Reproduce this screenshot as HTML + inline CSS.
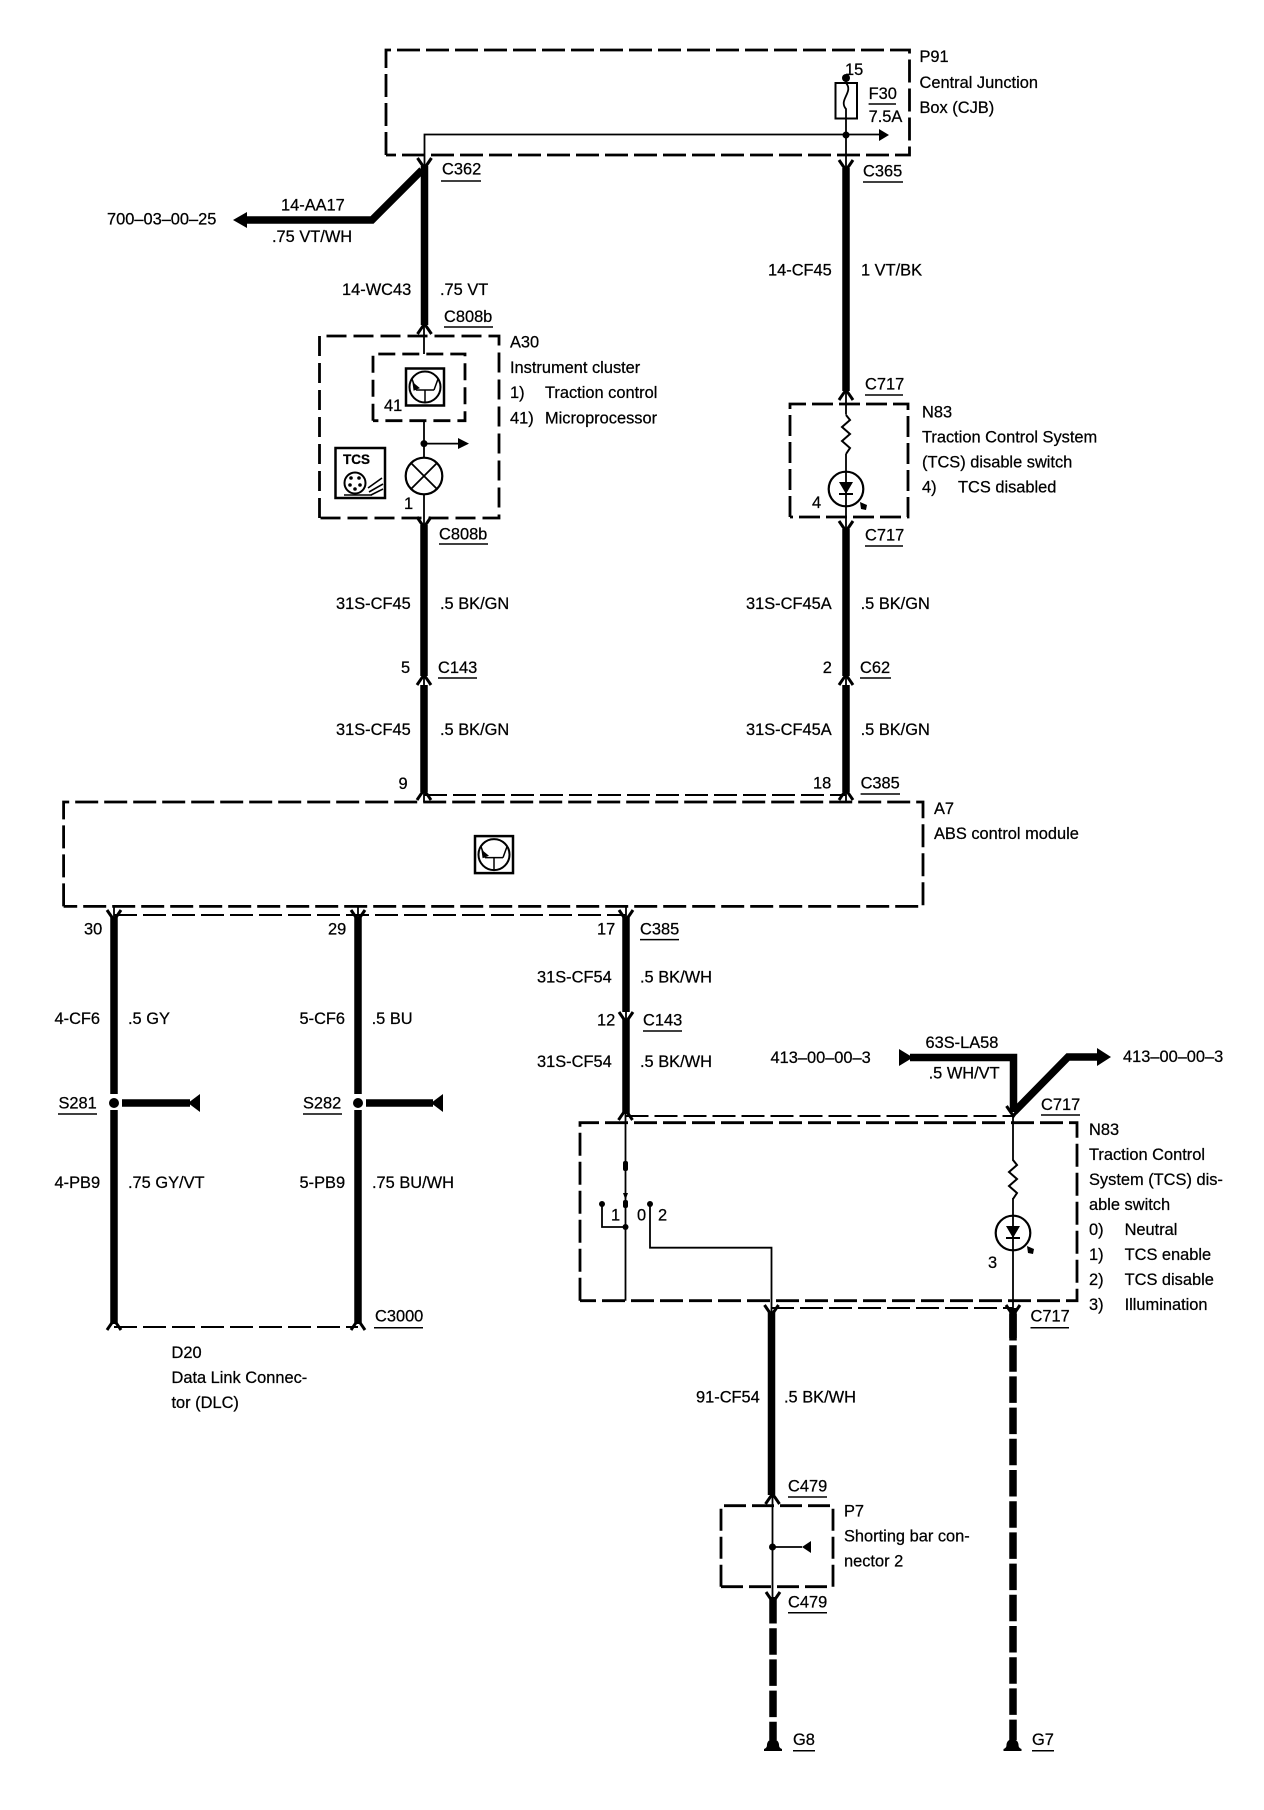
<!DOCTYPE html>
<html><head><meta charset="utf-8"><style>
html,body{margin:0;padding:0;background:#fff}
svg{display:block}
text{font-family:"Liberation Sans",sans-serif;font-size:16.4px;fill:#000;stroke:#000;stroke-width:.25px}
</style></head><body>
<svg width="1264" height="1810" viewBox="0 0 1264 1810" xmlns="http://www.w3.org/2000/svg">
<defs>
<path id="fu" d="M-7,-7 Q-3,-1 0,3 Q3,-1 7,-7" fill="none" stroke="#000" stroke-width="3"/>
<path id="fd" d="M-7,7 Q-3,1 0,-3 Q3,1 7,7" fill="none" stroke="#000" stroke-width="3"/>
<g id="ecu" fill="none" stroke="#000">
<rect x="-19" y="-18.5" width="38" height="37" stroke-width="2.5" fill="#fff"/>
<circle r="15.5" stroke-width="2"/>
<path d="M-9,3H9M0,3V15M-9,3L-13,-8M9,3L13,-8" stroke-width="1.5"/>
<path d="M-12,-4L-6,1L-11,3Z" fill="#000" stroke="#000" stroke-width="1"/>
</g>
<g id="led" fill="none" stroke="#000">
<circle r="17.3" stroke-width="2.2"/>
<path d="M-7,-7H7L0,5Z" fill="#000" stroke="none"/>
<path d="M-7,5H7" stroke-width="2"/>
<path d="M14,13L21,16L20,21L15,20Z" fill="#000" stroke="none"/>
</g>
<g id="gnd"><path d="M-9,10H9V8Q6,7 6,4A6,6 0 0 0 -6,4Q-6,7 -9,8Z" fill="#000"/></g>
<path id="res" d="M0,0L4,5L-4,12L4,19L-4,26L4,33L0,39" fill="none" stroke="#000" stroke-width="2"/>
</defs>

<!-- dashed boxes -->
<g fill="none" stroke="#000" stroke-width="2.8" stroke-dasharray="23 6">
<path d="M386,155V50H909.5V155H386"/>
<path d="M319.5,518V336H499V518H319.5" stroke-dasharray="20 7"/>
<path d="M373,420.7V354H465V420.7H373" stroke-dasharray="17 7"/>
<path d="M790,517V404H908V517H790" stroke-dasharray="21 6"/>
<path d="M63.6,906.4V802H923V906.4H63.6"/>
<path d="M580,1300.7V1122.7H1077V1300.7H580"/>
<path d="M721,1586.7V1505.7H833V1586.7H721" stroke-dasharray="22 6"/>
</g>
<!-- thin dashed links -->
<g fill="none" stroke="#000" stroke-width="2" stroke-dasharray="23 6">
<path d="M424,795H846"/>
<path d="M114,915H626"/>
<path d="M625.5,1116H1013"/>
<path d="M771,1308H1013"/>
<path d="M114,1327H358"/>
</g>

<!-- thick wires -->
<g fill="none" stroke="#000" stroke-width="7.5">
<path d="M424.5,166V325"/>
<path d="M424,525V676"/>
<path d="M424,685V792"/>
<path d="M846,168V391"/>
<path d="M846,529V676"/>
<path d="M846,685V792"/>
<path d="M114,917V1094M114,1110V1324"/>
<path d="M358,917V1094M358,1110V1324"/>
<path d="M626,917V1012M626,1019V1114"/>
<path d="M771.5,1312V1495"/>
<path d="M422,170L372,220H245"/>
<path d="M122,1103H190M366,1103H433"/>
<path d="M910,1057.5H1013.5V1112"/>
<path d="M1014,1112L1068,1057H1098"/>
<path d="M1013,1314V1740" stroke-dasharray="26.5 4.7"/>
<path d="M773,1597V1740" stroke-dasharray="26.5 4.7"/>
</g>
<path d="M1013,1308V1338" stroke="#000" stroke-width="7.5"/>

<!-- arrow heads -->
<g fill="#000">
<path d="M233,220L247,212V228Z"/>
<path d="M188,1103L200,1094V1112Z"/>
<path d="M431,1103L443,1094V1112Z"/>
<path d="M899,1049V1066L913,1057.5Z"/>
<path d="M1097,1048V1066L1111,1057Z"/>
<path d="M889,135L879,129V141Z"/>
<path d="M469,443.6L458,438V449Z"/>
<path d="M802,1547L811,1541V1553Z"/>
<circle cx="114" cy="1103" r="5"/>
<circle cx="358" cy="1103" r="5"/>
<circle cx="424" cy="443.6" r="3.5"/>
<circle cx="846" cy="135" r="3.5"/>
<circle cx="846" cy="78" r="4"/>
<circle cx="772.5" cy="1547" r="3.5"/>
<circle cx="625.5" cy="1227" r="3"/>
<circle cx="602" cy="1204" r="3"/>
<circle cx="650" cy="1204" r="3"/>
<rect x="623" y="1161" width="5" height="10" rx="2"/>
<path d="M623,1193H628L625.5,1200Z"/>
<rect x="623" y="1200" width="5" height="8" rx="2"/>
</g>

<!-- thin wires -->
<g fill="none" stroke="#000" stroke-width="1.8">
<path d="M424.5,166V134.5H879"/>
<path d="M424,325V354M424,420.7V458M424,494V525M424,676V685M424,792V802"/>
<path d="M424,443.6H458"/>
<path d="M846,78V168M846,391V414.6M846,454V529M846,676V685M846,792V802"/>
<path d="M114,906V917M358,906V917M626,906V917M626,1012V1019"/>
<path d="M625.5,1114V1300.7"/>
<path d="M602,1204V1227H625.5"/>
<path d="M650,1204V1247.7H771.5V1312"/>
<path d="M1013,1114V1160.7M1013,1198V1312"/>
<path d="M772.5,1495V1600"/>
<path d="M772.5,1547H802"/>
<path d="M868.6,104H896" stroke-width="1.5"/>
</g>

<!-- fuse -->
<rect x="835.5" y="83" width="21.5" height="35.5" fill="#fff" stroke="#000" stroke-width="2"/>
<path d="M846,83C854,92 838,100 846,109V118.5" fill="none" stroke="#000" stroke-width="1.8"/>

<!-- components -->
<use href="#ecu" x="425" y="387"/>
<use href="#ecu" x="494" y="854.6"/>
<g fill="none" stroke="#000" stroke-width="2.2">
<circle cx="424" cy="476" r="18.3" fill="#fff"/>
<path d="M411,463L437,489M437,463L411,489" stroke-width="1.8"/>
</g>
<use href="#res" x="846" y="415"/>
<use href="#res" x="1013" y="1160"/>
<use href="#led" x="846" y="489"/>
<use href="#led" x="1013" y="1233"/>

<!-- TCS icon -->
<rect x="335.5" y="448" width="49.5" height="50" fill="#fff" stroke="#000" stroke-width="2.5"/>
<text x="343" y="464" style="font-size:13.5px;font-weight:bold">TCS</text>
<circle cx="355" cy="483" r="10.5" fill="none" stroke="#000" stroke-width="2"/>
<g fill="#000"><circle cx="351" cy="478" r="1.8"/><circle cx="359" cy="478" r="1.8"/><circle cx="350" cy="485" r="1.8"/><circle cx="360" cy="485" r="1.8"/><circle cx="355" cy="489" r="1.8"/></g>
<path d="M344,495H372M368,488L382,478M369,492L383,484M371,495L383,489" fill="none" stroke="#000" stroke-width="1.6"/>

<!-- connector forks -->
<use href="#fu" x="424.5" y="165"/>
<use href="#fd" x="424.5" y="327"/>
<use href="#fu" x="424" y="524"/>
<use href="#fd" x="424" y="678"/>
<use href="#fd" x="424" y="793"/>
<use href="#fu" x="846" y="167"/>
<use href="#fd" x="846" y="393"/>
<use href="#fu" x="846" y="528"/>
<use href="#fd" x="846" y="678"/>
<use href="#fd" x="846" y="793"/>
<use href="#fu" x="114" y="917"/>
<use href="#fu" x="358" y="917"/>
<use href="#fu" x="626" y="917"/>
<use href="#fu" x="626" y="1019"/>
<use href="#fd" x="114" y="1323"/>
<use href="#fd" x="358" y="1323"/>
<use href="#fd" x="625.5" y="1113"/>
<use href="#fu" x="1013.5" y="1113"/>
<use href="#fu" x="771.5" y="1312"/>
<use href="#fu" x="1013" y="1312"/>
<use href="#fd" x="772.5" y="1497"/>
<use href="#fu" x="773" y="1599"/>
<use href="#gnd" x="773" y="1741"/>
<use href="#gnd" x="1012.5" y="1741"/>

<!-- underlines -->
<g stroke="#000" stroke-width="1.5" fill="none">
<path d="M441,181H481M444,327H493M439,544H488M863,182H903M865,395H903M865,546H903"/>
<path d="M438,678H477M860,678H891M860.6,794H900M640,939.6H679M643,1031H682"/>
<path d="M58,1114H97M303,1114H342M374,1327.7H423M1041,1115H1080M1030.5,1327.7H1069"/>
<path d="M788,1497H827M788,1612.7H827M793,1750.7H815M1032,1750.7H1054"/>
</g>

<!-- labels -->
<text x="919.5" y="62">P91</text>
<text x="919.5" y="88">Central Junction</text>
<text x="919.5" y="113">Box (CJB)</text>
<text x="845" y="75">15</text>
<text x="868.6" y="99">F30</text>
<text x="868.6" y="122">7.5A</text>
<text x="442" y="174.6">C362</text>
<text x="863" y="176.4">C365</text>
<text x="281" y="210.4">14-AA17</text>
<text x="107" y="224.6">700–03–00–25</text>
<text x="272" y="242">.75 VT/WH</text>
<text x="342" y="295">14-WC43</text>
<text x="440" y="295">.75 VT</text>
<text x="768" y="275.7">14-CF45</text>
<text x="861" y="275.7">1 VT/BK</text>
<text x="444" y="322">C808b</text>
<text x="510" y="347.5">A30</text>
<text x="510" y="373">Instrument cluster</text>
<text x="510" y="398">1)</text><text x="545" y="398">Traction control</text>
<text x="510" y="423.6">41)</text><text x="545" y="423.6">Microprocessor</text>
<text x="384" y="411">41</text>
<text x="404" y="509">1</text>
<text x="439" y="539.6">C808b</text>
<text x="865" y="389.6">C717</text>
<text x="922" y="417.5">N83</text>
<text x="922" y="442.5">Traction Control System</text>
<text x="922" y="467.5">(TCS) disable switch</text>
<text x="922" y="492.5">4)</text><text x="958" y="492.5">TCS disabled</text>
<text x="812" y="508">4</text>
<text x="865" y="540.7">C717</text>
<text x="336" y="609">31S-CF45</text>
<text x="440" y="609">.5 BK/GN</text>
<text x="746" y="609">31S-CF45A</text>
<text x="860.6" y="609">.5 BK/GN</text>
<text x="401" y="673">5</text>
<text x="438" y="673">C143</text>
<text x="822.7" y="673">2</text>
<text x="860" y="673">C62</text>
<text x="336" y="735">31S-CF45</text>
<text x="440" y="735">.5 BK/GN</text>
<text x="746" y="735">31S-CF45A</text>
<text x="860.6" y="735">.5 BK/GN</text>
<text x="398.5" y="789">9</text>
<text x="813" y="788.6">18</text>
<text x="860.6" y="788.6">C385</text>
<text x="934" y="814">A7</text>
<text x="934" y="839">ABS control module</text>
<text x="84" y="934.3">30</text>
<text x="328" y="934.3">29</text>
<text x="597" y="934.3">17</text>
<text x="640" y="934.3">C385</text>
<text x="537" y="982.5">31S-CF54</text>
<text x="640" y="982.5">.5 BK/WH</text>
<text x="54.5" y="1024">4-CF6</text>
<text x="128" y="1024">.5 GY</text>
<text x="299.5" y="1024">5-CF6</text>
<text x="371.6" y="1024">.5 BU</text>
<text x="597" y="1025.7">12</text>
<text x="643" y="1025.7">C143</text>
<text x="537" y="1067">31S-CF54</text>
<text x="640" y="1067">.5 BK/WH</text>
<text x="770.5" y="1063">413–00–00–3</text>
<text x="925.5" y="1048">63S-LA58</text>
<text x="928.6" y="1078.6">.5 WH/VT</text>
<text x="1123" y="1062">413–00–00–3</text>
<text x="1041" y="1110">C717</text>
<text x="58.5" y="1108.6">S281</text>
<text x="303" y="1108.6">S282</text>
<text x="54.5" y="1188">4-PB9</text>
<text x="128" y="1188">.75 GY/VT</text>
<text x="299.5" y="1188">5-PB9</text>
<text x="372" y="1188">.75 BU/WH</text>
<text x="375" y="1321.7">C3000</text>
<text x="171.5" y="1358">D20</text>
<text x="171.5" y="1383">Data Link Connec-</text>
<text x="171.5" y="1408">tor (DLC)</text>
<text x="1089" y="1135">N83</text>
<text x="1089" y="1160">Traction Control</text>
<text x="1089" y="1185">System (TCS) dis-</text>
<text x="1089" y="1210">able switch</text>
<text x="1089" y="1235">0)</text><text x="1124.6" y="1235">Neutral</text>
<text x="1089" y="1260">1)</text><text x="1124.6" y="1260">TCS enable</text>
<text x="1089" y="1285">2)</text><text x="1124.6" y="1285">TCS disable</text>
<text x="1089" y="1310">3)</text><text x="1124.6" y="1310">Illumination</text>
<text x="611" y="1220.7">1</text>
<text x="637" y="1220.7">0</text>
<text x="658" y="1220.7">2</text>
<text x="988" y="1268">3</text>
<text x="1030.5" y="1321.7">C717</text>
<text x="696" y="1402.7">91-CF54</text>
<text x="784" y="1402.7">.5 BK/WH</text>
<text x="788" y="1491.7">C479</text>
<text x="844" y="1516.7">P7</text>
<text x="844" y="1541.7">Shorting bar con-</text>
<text x="844" y="1566.7">nector 2</text>
<text x="788" y="1607.7">C479</text>
<text x="793" y="1745">G8</text>
<text x="1032" y="1745">G7</text>
</svg>
</body></html>
